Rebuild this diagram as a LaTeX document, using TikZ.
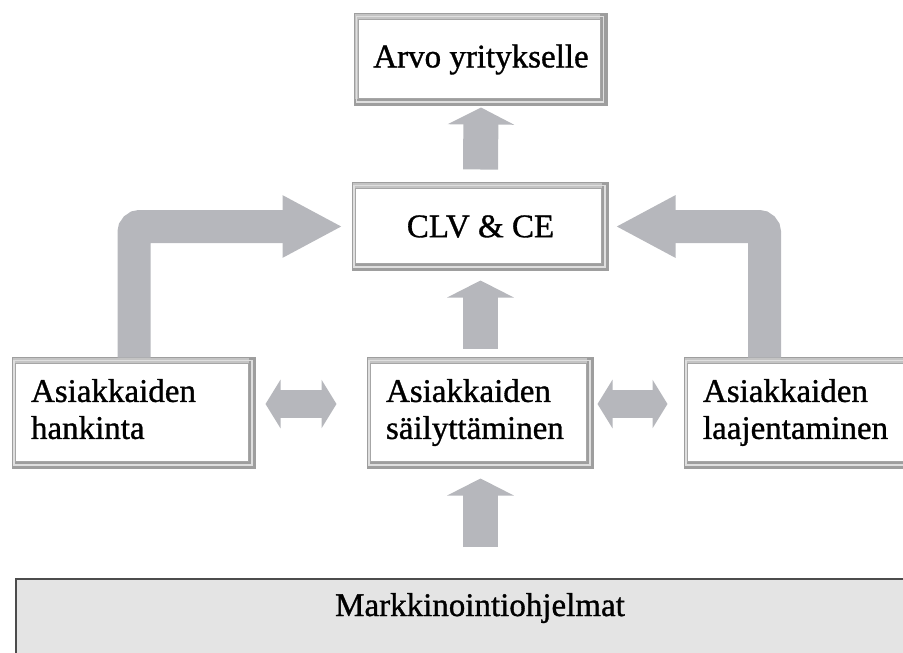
\documentclass[tikz,border=0pt]{standalone}
\usepackage{fontspec}
\setmainfont[FakeBold=1]{Liberation Serif}
\usetikzlibrary{arrows.meta, calc}
\definecolor{arrowgray}{RGB}{182,183,188}
\definecolor{framegray}{RGB}{158,158,158}
\definecolor{bandgray}{RGB}{196,196,196}
\definecolor{basegray}{RGB}{228,228,228}
\tikzset{
  panel/.style={draw=framegray, line width=1pt, fill=white, inner xsep=18pt, inner ysep=0pt},
  blockup/.style={arrowgray, line width=35pt, -{Triangle[length=17pt,width=66pt]}},
  blockboth/.style={arrowgray, line width=28pt,
    {Triangle[length=15pt,width=48pt]}-{Triangle[length=15pt,width=48pt]}},
  blockbend/.style={arrowgray, line width=33pt, rounded corners=6pt,
    -{Triangle[length=60pt,width=58pt]}},
}
% raised frame round a panel
\newcommand{\bevel}[1]{
  \fill[bandgray] (#1.north west) rectangle ([yshift=-6pt]#1.north east);
  \fill[bandgray] (#1.north west) rectangle ([xshift=3pt]#1.south west);
  \fill[framegray] ([yshift=7pt]#1.south west) rectangle (#1.south east);
  \fill[framegray] ([xshift=-7pt]#1.north east) rectangle (#1.south east);
  \draw[white!75!gray, line width=1.2pt] ([xshift=1.5pt,yshift=-3pt]#1.north west)
    rectangle ([xshift=-3.5pt,yshift=3.5pt]#1.south east);
  \draw[gray!70, line width=0.6pt] ([xshift=3pt,yshift=-6pt]#1.north west)
    rectangle ([xshift=-7pt,yshift=7pt]#1.south east);
  \draw[framegray, line width=1pt] (#1.north west) rectangle (#1.south east);
}

\begin{document}
\begin{tikzpicture}[x=1pt, y=-1pt, font=\fontsize{33}{37}\selectfont]
\useasboundingbox (0,0) rectangle (903,653);

% panels
\node[panel, minimum width=232, minimum height=91] (arvo) at (481,59.5) {Arvo yritykselle};
\node[panel, minimum width=255, minimum height=87] (clv) at (480.5,226.5) {CLV \& CE};
\node[panel, text width=206, align=left, minimum height=110] (hank) at (134,413)
  {\strut Asiakkaiden\\hankinta\strut};
\node[panel, text width=189, align=left, minimum height=110] (sail) at (480.5,413)
  {\strut Asiakkaiden\\säilyttäminen\strut};
\node[panel, text width=209, align=left, minimum height=110] (laaj) at (807.5,413)
  {\strut Asiakkaiden\\laajentaminen\strut};
\foreach \n in {arvo,clv,hank,sail,laaj}
  \bevel{\n};

% marketing base
\node[draw=black!70, line width=2pt, fill=basegray, minimum width=920, minimum height=110,
  anchor=north west] (mark) at (15,578) {};
\node[anchor=base] (marktext) at (480,616) {Markkinointiohjelmat};

% block arrows
\draw[blockup] ([yshift=13pt]clv.north) -- ([yshift=-2pt]arvo.south);
\draw[blockup] ([yshift=9pt]sail.north) -- ([yshift=-10pt]clv.south);
\draw[blockup] ($(sail.south |- mark.north)+(0,-31)$) -- ([yshift=-10pt]sail.south);
\draw[blockboth] ([xshift=10pt,yshift=9pt]hank.east) -- ([xshift=-31pt,yshift=9pt]sail.west);
\draw[blockboth] ([xshift=4pt,yshift=9pt]sail.east) -- ([xshift=-17pt,yshift=9pt]laaj.west);
\draw[blockbend] (hank.north) |- ([xshift=-10pt]clv.west);
\draw[blockbend] ([xshift=80pt]laaj.north west) |- ([xshift=7pt]clv.east);
\end{tikzpicture}
\end{document}
